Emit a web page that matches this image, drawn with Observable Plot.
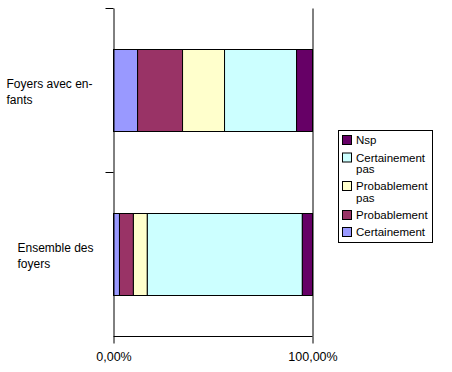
<!DOCTYPE html>
<html>
<head>
<meta charset="utf-8">
<script src="https://cdn.jsdelivr.net/npm/d3@7"></script>
<script src="https://cdn.jsdelivr.net/npm/@observablehq/plot@0.6"></script>
<style>
  html, body { margin: 0; padding: 0; background: white; }
  #chart { width: 452px; height: 372px; }
</style>
</head>
<body>
<div id="chart"></div>
<script>
const categories = ["Foyers avec enfants", "Ensemble des foyers"];
const categoryLabels = ["Foyers avec en-\nfants", "Ensemble des\nfoyers"];
const seriesNames = ["Certainement", "Probablement", "Probablement pas", "Certainement pas", "Nsp"];
const seriesColors = ["#9999FF", "#993366", "#FFFFCC", "#CCFFFF", "#660066"];
const foyersAvecEnfants = [12.1, 22.6, 21.1, 36.2, 8.0];
const ensembleDesFoyers = [3.0, 7.0, 7.0, 77.9, 5.1];
const xTicks = [0, 100];
const legendOrder = ["Nsp", "Certainement pas", "Probablement pas", "Probablement", "Certainement"];
const legendLabels = ["Nsp", "Certainement\npas", "Probablement\npas", "Probablement", "Certainement"];

const valuesByCategory = [foyersAvecEnfants, ensembleDesFoyers];
const data = [];
categories.forEach((c, ci) => {
  seriesNames.forEach((s, si) => data.push({cat: c, series: s, value: valuesByCategory[ci][si]}));
});

const fmt = d => d.toFixed(2).replace(".", ",") + "%";
const labelOf = c => categoryLabels[categories.indexOf(c)];

const chart = Plot.plot({
  width: 452,
  height: 372,
  marginLeft: 113.5,
  marginRight: 139.5,
  marginTop: 8.5,
  marginBottom: 35.5,
  style: {fontFamily: "'Liberation Sans', Arial, sans-serif", fontSize: "12px", color: "black", background: "white", overflow: "visible"},
  x: {domain: [0, 100], axis: null},
  y: {domain: categories, paddingInner: 0.5, paddingOuter: 0.25, round: false, axis: null},
  color: {domain: seriesNames, range: seriesColors},
  marks: [
    Plot.barX(data, Plot.stackX({y: "cat", x: "value", fill: "series", stroke: "black", strokeWidth: 1})),
    Plot.ruleX([0, 100], {stroke: "black", strokeWidth: 1}),
    Plot.axisX({ticks: xTicks, tickFormat: fmt, tickSize: 7, tickPadding: 8, fontSize: 12.5, label: null, stroke: "black", strokeOpacity: 1}),
    Plot.axisY([categories[0]], {tickSize: 0, tickPadding: 0, textAnchor: "start", dx: -107.5, tickFormat: labelOf, lineHeight: 1.35, label: null, fontSize: 12}),
    Plot.axisY([categories[1]], {tickSize: 0, tickPadding: 0, textAnchor: "start", dx: -96.5, tickFormat: labelOf, lineHeight: 1.35, label: null, fontSize: 12})
  ]
});

document.getElementById("chart").appendChild(chart);

const svg = d3.select(chart);
const xs = chart.scale("x");
const ys = chart.scale("y");
const bw = ys.bandwidth;
const step = ys.step != null ? ys.step : bw / (1 - 0.5);
const halfGap = (step - bw) / 2;
const yBottom = ys.apply(categories[categories.length - 1]) + bw + halfGap;

// bottom axis line
svg.append("line")
  .attr("x1", xs.apply(0)).attr("x2", xs.apply(100))
  .attr("y1", yBottom).attr("y2", yBottom)
  .attr("stroke", "black");

// left category boundary ticks
categories.forEach(c => {
  const yy = ys.apply(c) - halfGap;
  svg.append("line")
    .attr("x1", xs.apply(0) - 8).attr("x2", xs.apply(0))
    .attr("y1", yy).attr("y2", yy)
    .attr("stroke", "black");
});

// legend
const cs = chart.scale("color");
const lg = svg.append("g").attr("font-size", 11.5).attr("text-anchor", "start")
  .attr("font-family", "'Liberation Sans', Arial, sans-serif");
lg.append("rect").attr("x", 338.5).attr("y", 130.5).attr("width", 94).attr("height", 112)
  .attr("fill", "white").attr("stroke", "black");
const rowCenters = [140, 157.5, 186, 215, 232];
legendOrder.forEach((name, i) => {
  const cy = rowCenters[i];
  lg.append("rect").attr("x", 342.5).attr("y", cy - 4.5).attr("width", 9).attr("height", 9)
    .attr("fill", cs.apply(name)).attr("stroke", "black");
  const lines = legendLabels[i].split("\n");
  lines.forEach((ln, j) => {
    lg.append("text").attr("x", 356).attr("y", cy + j * 11.5).attr("dy", "0.35em")
      .attr("text-anchor", "start").attr("fill", "black").text(ln);
  });
});
</script>
</body>
</html>
